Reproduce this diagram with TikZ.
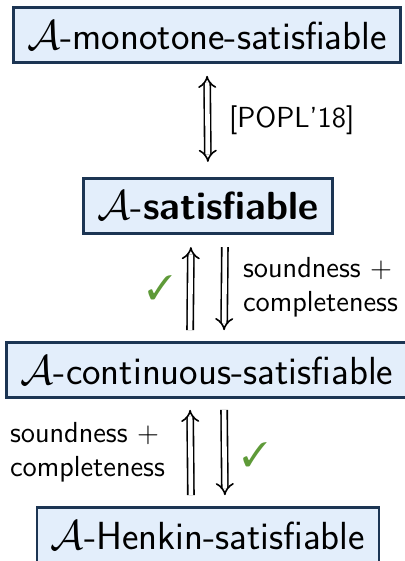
\documentclass[tikz,border=0pt]{standalone}
\usepackage{tikz}
\usepackage{pifont}
\usetikzlibrary{arrows.meta}

\definecolor{boxfill}{HTML}{E3EEFB}
\definecolor{boxline}{HTML}{1C3553}
\definecolor{tickgreen}{HTML}{5E9A38}

\tikzset{
    satbox/.style={draw=boxline, fill=boxfill, line width=1.3pt,
        inner xsep=7pt, minimum height=27.5pt,
        font=\sffamily\fontsize{19.6}{22}\selectfont},
    implarrow/.style={double, double distance=2.3pt, line width=0.8pt},
    proofnote/.style={font=\sffamily\fontsize{14.5}{17}\selectfont, align=left},
    tick/.style={text=tickgreen, font=\fontsize{17}{20}\selectfont}
}

\begin{document}
\begin{tikzpicture}[x=0.5pt, y=-0.5pt]
    \useasboundingbox (0,0) rectangle (404,561);

    % The four notions of satisfiability
    \node[satbox] (mono) at (207,35) {$\mathcal{A}$-monotone-satisfiable};
    \node[satbox, line width=1.6pt] (sat) at (208,206) {$\mathcal{A}$-\textbf{satisfiable}};
    \node[satbox] (cont) at (207,370) {$\mathcal{A}$-continuous-satisfiable};
    \node[satbox] (henk) at (208,535) {$\mathcal{A}$-Henkin-satisfiable};

    % monotone <=> satisfiable
    \draw[implarrow, {Implies}-{Implies}, shorten <=6pt, shorten >=7.5pt]
        (mono.south) -- (sat.north);
    \node[proofnote, anchor=west] (popl) at (222,120) {[POPL'18]};

    % satisfiable <=> continuous
    \draw[implarrow, -{Implies}, shorten <=5.5pt, shorten >=6pt]
        ([xshift=-8.5pt]cont.north) -- ([xshift=-8.5pt]sat.south);
    \draw[implarrow, -{Implies}, shorten <=6pt, shorten >=5.5pt]
        ([xshift=8.5pt]sat.south) -- ([xshift=8.5pt]cont.north);
    \node[tick] (tickA) at (160,288) {\ding{51}};
    \node[proofnote, anchor=west] (noteA) at (236,287) {soundness $+$\\completeness};

    % continuous <=> Henkin
    \draw[implarrow, -{Implies}, shorten <=5.5pt, shorten >=5.5pt]
        ([xshift=-8.5pt]henk.north) -- ([xshift=-8.5pt]cont.south);
    \draw[implarrow, -{Implies}, shorten <=5.5pt, shorten >=5.5pt]
        ([xshift=8.5pt]cont.south) -- ([xshift=8.5pt]henk.north);
    \node[tick] (tickB) at (255,455) {\ding{51}};
    \node[proofnote, anchor=east] (noteB) at (172,452) {soundness $+$\\completeness};
\end{tikzpicture}
\end{document}
